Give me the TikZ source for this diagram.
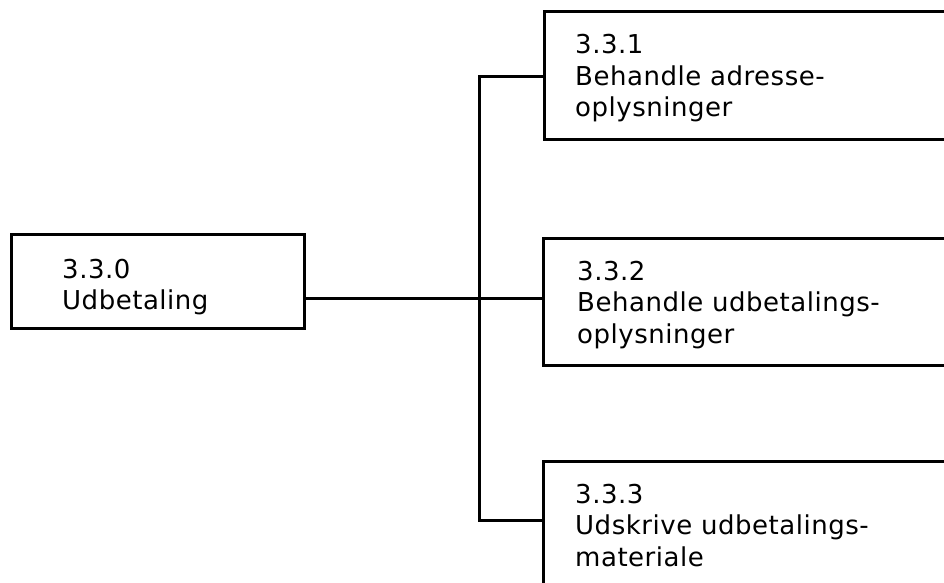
\documentclass[tikz,border=0pt]{standalone}
\usepackage{fontspec}
\setmainfont{DejaVu Sans}[LetterSpace=2]
\usepackage{tikz}
\usetikzlibrary{positioning}

\tikzset{
  procbox/.style={draw,line width=3bp,rectangle,inner sep=0pt,anchor=north west},
  proclabel/.style={inner sep=0pt,align=left,font=\fontsize{26bp}{31.5bp}\selectfont},
  linkline/.style={draw,line width=3bp}
}

\begin{document}
\begin{tikzpicture}
\useasboundingbox (0bp,0bp) rectangle (944bp,-583bp);
\clip (0bp,0bp) rectangle (944bp,-583bp);

\node (B330) at (10bp,-233bp)[procbox,minimum width=293bp,minimum height=94bp] {};
\node (B331) at (543bp,-10bp)[procbox,minimum width=440bp,minimum height=128bp] {};
\node (B332) at (542bp,-237bp)[procbox,minimum width=440bp,minimum height=127bp] {};
\node (B333) at (542bp,-460bp)[procbox,minimum width=440bp,minimum height=140bp] {};

\node (L330) [proclabel,below right=25.5bp and 52bp of B330.north west] {3.3.0\\Udbetaling};
\node (L331) [proclabel,below right=24.5bp and 32bp of B331.north west] {3.3.1\\Behandle adresse-\\oplysninger};
\node (L332) [proclabel,below right=23.5bp and 35bp of B332.north west] {3.3.2\\Behandle udbetalings-\\oplysninger};
\node (L333) [proclabel,below right=23.5bp and 33bp of B333.north west] {3.3.3\\Udskrive udbetalings-\\materiale};

\coordinate (T1) at (479bp,-76bp);
\coordinate (T2) at (479bp,-298bp);
\coordinate (T3) at (479bp,-520bp);

\path [linkline] (B331.west |- T1) -- (T1) -- (T3) -- (B333.west |- T3);
\path [linkline] (B330.east |- T2) -- (B332.west |- T2);
\end{tikzpicture}
\end{document}
